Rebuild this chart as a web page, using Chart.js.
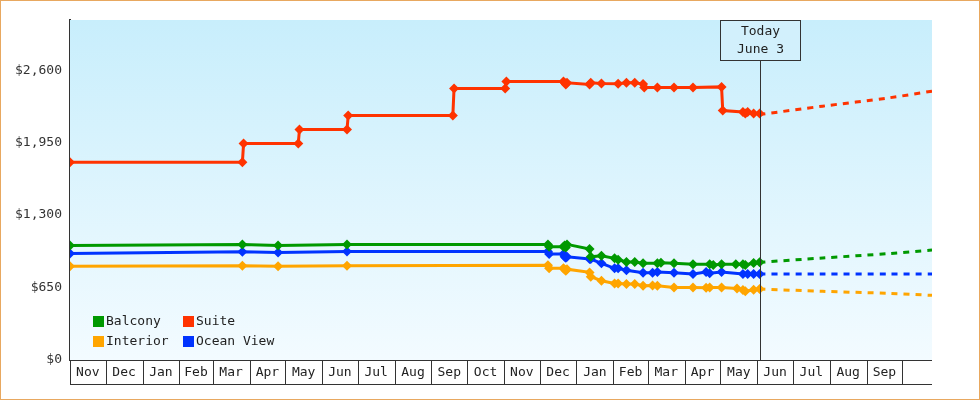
<!DOCTYPE html>
<html>
<head>
<meta charset="utf-8">
<script src="https://cdn.jsdelivr.net/npm/chart.js@4"></script>
<style>
  body { margin: 0; background: #fff; }
  #wrap { width: 978px; height: 398px; border: 1px solid #e8a860; }
</style>
</head>
<body>
<div id="wrap"><canvas id="priceChart" width="978" height="398"></canvas></div>
<script>
// x values are days since Nov 1, 2022
const startDate = new Date(2022, 10, 1);
const monthLabels = ["Nov","Dec","Jan","Feb","Mar","Apr","May","Jun","Jul","Aug","Sep","Oct",
                     "Nov","Dec","Jan","Feb","Mar","Apr","May","Jun","Jul","Aug","Sep"];
const yTicks = [0, 650, 1300, 1950, 2600];
const todayDay = 580;
const todayLines = ["Today", "June 3"];

const suiteDays   = [0, 145, 146, 192, 193, 233, 234, 322, 323, 366, 367, 415, 416, 417, 418, 437, 438, 447, 461, 468, 475, 482, 483, 494, 508, 524, 548, 549, 566, 568, 570, 575, 580];
const suiteVals   = [1775, 1775, 1943, 1943, 2068, 2068, 2194, 2194, 2436, 2436, 2498, 2498, 2486, 2471, 2486, 2471, 2486, 2480, 2478, 2486, 2486, 2475, 2445, 2445, 2445, 2445, 2450, 2238, 2225, 2211, 2225, 2211, 2211];
const balconyDays = [0, 145, 175, 233, 402, 403, 415, 416, 417, 418, 437, 438, 447, 458, 461, 468, 475, 482, 494, 497, 508, 524, 538, 541, 548, 560, 566, 568, 575, 580];
const balconyVals = [1028, 1037, 1028, 1037, 1037, 1016, 1016, 1028, 1010, 1037, 995, 926, 935, 912, 900, 880, 880, 867, 867, 872, 867, 858, 858, 852, 858, 858, 858, 852, 870, 876];
const oceanDays   = [0, 145, 175, 233, 402, 403, 415, 416, 417, 418, 437, 438, 447, 458, 461, 468, 482, 490, 494, 508, 524, 535, 538, 548, 566, 570, 575, 580];
const oceanVals   = [956, 971, 965, 974, 974, 950, 950, 926, 918, 926, 905, 905, 867, 822, 822, 806, 783, 783, 790, 783, 771, 790, 778, 790, 771, 771, 771, 771];
const interiorDays = [0, 145, 175, 233, 402, 403, 415, 416, 417, 418, 437, 438, 447, 458, 461, 468, 475, 482, 490, 494, 508, 524, 535, 538, 548, 561, 566, 568, 575, 580];
const interiorVals = [840, 846, 840, 846, 849, 822, 822, 812, 800, 815, 786, 747, 711, 687, 687, 681, 681, 666, 669, 666, 651, 651, 648, 651, 651, 642, 628, 616, 631, 637];

const forecastDays = [580, 633, 689, 725];
const suiteFc      = [2202, 2277, 2352, 2412];
const balconyFc    = [876, 915, 955, 986];
const oceanFc      = [771, 771, 771, 771];
const interiorFc   = [637, 616, 598, 580];

const series = [
    { label: "Balcony",    color: "#009900", days: balconyDays,  vals: balconyVals,  fc: balconyFc },
    { label: "Interior",   color: "#ffa500", days: interiorDays, vals: interiorVals, fc: interiorFc },
    { label: "Suite",      color: "#ff3300", days: suiteDays,    vals: suiteVals,    fc: suiteFc },
    { label: "Ocean View", color: "#0033ff", days: oceanDays,    vals: oceanVals,    fc: oceanFc }
];

const FONT = "13px 'DejaVu Sans Mono', monospace";

function dayOf(d) { return Math.round((d - startDate) / 86400000); }
const monthStarts = [];
for (let i = 0; i <= monthLabels.length; i++) monthStarts.push(dayOf(new Date(2022, 10 + i, 1)));

const datasets = [];
series.forEach(s => {
    datasets.push({
        label: s.label,
        data: s.days.map((d, i) => ({ x: d, y: s.vals[i] })),
        borderColor: s.color, backgroundColor: s.color,
        borderWidth: 3, pointStyle: "rectRot", pointRadius: 5, pointBorderWidth: 0,
        order: 1
    });
    datasets.push({
        label: s.label + " forecast",
        data: forecastDays.map((d, i) => ({ x: d, y: s.fc[i] })),
        borderColor: s.color, borderWidth: 3, borderDash: [6, 6],
        pointRadius: 0, tension: 0.3, order: 2
    });
});

// ---------------------------------------------------
// DECORATION PLUGIN (background, months, today, legend)
// ---------------------------------------------------
const decor = {
    id: "decor",
    beforeDatasetsDraw(chart) {
        const { ctx, chartArea: a } = chart;
        const g = ctx.createLinearGradient(0, a.top, 0, a.bottom);
        g.addColorStop(0, "#c8eefc");
        g.addColorStop(1, "#f3fbff");
        ctx.save();
        ctx.fillStyle = g;
        ctx.fillRect(a.left, a.top, a.right - a.left, a.bottom - a.top);
        ctx.restore();
    },
    afterDatasetsDraw(chart) {
        const { ctx, chartArea: a, scales: { x } } = chart;
        ctx.save();
        ctx.font = FONT;
        ctx.fillStyle = "#222";
        ctx.strokeStyle = "#333";

        // month boxes
        const boxTop = a.bottom, boxBot = a.bottom + 24;
        ctx.lineWidth = 1;
        ctx.beginPath();
        ctx.moveTo(a.left, boxBot + 0.5); ctx.lineTo(a.right, boxBot + 0.5);
        ctx.moveTo(a.left, boxTop + 0.5); ctx.lineTo(a.right, boxTop + 0.5);
        monthStarts.forEach(d => {
            const px = Math.round(x.getPixelForValue(d)) + 0.5;
            ctx.moveTo(px, boxTop); ctx.lineTo(px, boxBot);
        });
        ctx.stroke();
        ctx.textAlign = "center"; ctx.textBaseline = "middle";
        monthLabels.forEach((m, i) => {
            const cx = (x.getPixelForValue(monthStarts[i]) + x.getPixelForValue(monthStarts[i + 1])) / 2;
            ctx.fillText(m, cx, (boxTop + boxBot) / 2 + 1);
        });

        // today marker
        const tx = Math.round(x.getPixelForValue(todayDay)) + 0.5;
        ctx.beginPath();
        ctx.moveTo(tx, a.top + 40); ctx.lineTo(tx, a.bottom);
        ctx.stroke();
        ctx.fillStyle = "rgba(210,240,252,1)";
        ctx.fillRect(tx - 40, a.top, 80, 40);
        ctx.strokeRect(tx - 40, a.top + 0.5, 80, 40);
        ctx.fillStyle = "#222";
        ctx.fillText(todayLines[0], tx, a.top + 12);
        ctx.fillText(todayLines[1], tx, a.top + 30);

        // legend
        ctx.textAlign = "left";
        series.forEach((s, i) => {
            const lx = a.left + 23 + Math.floor(i / 2) * 90;
            const ly = a.top + 301 + (i % 2) * 20;
            ctx.fillStyle = s.color;
            ctx.fillRect(lx, ly - 5, 11, 11);
            ctx.fillStyle = "#222";
            ctx.fillText(s.label, lx + 13, ly + 1);
        });
        ctx.restore();
    }
};

new Chart(document.getElementById("priceChart"), {
    type: "line",
    data: { datasets },
    options: {
        responsive: false,
        animation: false,
        layout: { padding: { top: 19, right: 47, left: 0, bottom: 0 } },
        plugins: { legend: { display: false }, tooltip: { enabled: false } },
        scales: {
            x: {
                type: "linear", min: 0, max: 725,
                ticks: { display: false },
                grid: { display: false, drawTicks: false },
                border: { display: false },
                afterFit(s) { s.height = 39; }
            },
            y: {
                min: 0, max: 3050,
                afterBuildTicks(s) { s.ticks = yTicks.map(v => ({ value: v })); },
                ticks: {
                    font: { family: "'DejaVu Sans Mono', monospace", size: 13 },
                    color: "#333", padding: 3,
                    callback: v => "$" + v.toLocaleString("en-US")
                },
                grid: { display: false, drawOnChartArea: false, drawTicks: true, tickLength: 5, tickColor: "#333", tickWidth: 2 },
                border: { display: true, color: "#333", width: 2 },
                afterFit(s) { s.width = 69; }
            }
        }
    },
    plugins: [decor]
});
</script>
</body>
</html>
